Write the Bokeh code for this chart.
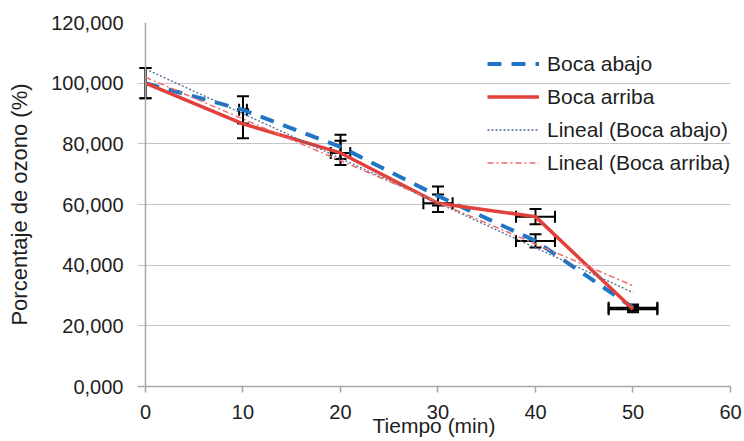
import numpy as np
from bokeh.plotting import figure
from bokeh.models import (ColumnDataSource, Whisker, TeeHead, Legend, LegendItem,
                          FixedTicker, Range1d, Span)
from bokeh.embed import file_html
from bokeh.resources import INLINE

# ---- data ----
time_min = [0, 10, 20, 30, 40, 50]
boca_abajo = [100.0, 91.2, 79.0, 62.8, 48.0, 26.0]
boca_arriba = [100.0, 86.6, 77.0, 60.4, 56.0, 25.5]
abajo_err_y = [5.0, 4.5, 4.0, 3.1, 2.2, 1.0]
arriba_err_y = [5.0, 4.8, 4.0, 2.9, 2.5, 1.0]
abajo_err_x = [0.0, 0.4, 0.0, 0.0, 2.0, 2.5]
arriba_err_x = [0.0, 0.0, 1.0, 1.5, 2.0, 2.5]

x_ticks = [0, 10, 20, 30, 40, 50, 60]
y_ticks = [0, 20, 40, 60, 80, 100, 120]
y_tick_labels = ["0,000", "20,000", "40,000", "60,000", "80,000", "100,000", "120,000"]
series_names = ["Boca abajo", "Boca arriba", "Lineal (Boca abajo)", "Lineal (Boca arriba)"]
x_title = "Tiempo (min)"
y_title = "Porcentaje de ozono (%)"

FONT = "Liberation Sans"
TXT = "#1e1e1e"
AX = "#a6a6a6"

# small left padding so the error-bar caps at t=0 are not clipped by the frame
p = figure(width=744, height=441, output_backend="svg", toolbar_location=None,
           x_range=Range1d(-0.82, 60), y_range=Range1d(0, 120),
           min_border_left=137, min_border_right=14, min_border_top=22, min_border_bottom=55)
p.outline_line_color = None
p.xgrid.visible = False
p.ygrid.grid_line_color = "#c4c4c4"
p.ygrid.grid_line_width = 1

p.xaxis.ticker = FixedTicker(ticks=x_ticks)
p.yaxis.ticker = FixedTicker(ticks=y_ticks)
p.yaxis.major_label_overrides = {t: l for t, l in zip(y_ticks, y_tick_labels)}

for ax in (p.xaxis[0], p.yaxis[0]):
    ax.axis_line_color = AX
    ax.axis_line_width = 1.5
    ax.major_tick_line_color = AX
    ax.major_tick_line_width = 1.5
    ax.major_tick_in = 0
    ax.major_tick_out = 6
    ax.minor_tick_line_color = None
    ax.major_label_text_font = FONT
    ax.major_label_text_font_size = "20px"
    ax.major_label_text_color = TXT

# y axis line drawn at t = 0; the grid lines left of it act as the tick marks
p.yaxis.axis_line_color = None
p.yaxis.major_tick_line_color = None
p.yaxis.major_tick_out = 0
p.add_layout(Span(location=0, dimension="height", line_color=AX, line_width=1.5))

p.yaxis.major_label_standoff = 14
p.xaxis.major_label_standoff = 12
p.yaxis.axis_label = y_title
p.xaxis.axis_label = x_title
for ax in (p.xaxis[0], p.yaxis[0]):
    ax.axis_label_text_font = FONT
    ax.axis_label_text_font_style = "normal"
    ax.axis_label_text_color = TXT
p.yaxis.axis_label_text_font_size = "22px"
p.xaxis.axis_label_text_font_size = "21px"
p.yaxis.axis_label_standoff = 16
p.xaxis.axis_label_standoff = -8

# ---- series ----
src = ColumnDataSource(dict(t=time_min, a=boca_abajo, r=boca_arriba))
r_abajo = p.line("t", "a", source=src, line_color="#1f76c6", line_width=4, line_dash="14 10")
r_arriba = p.line("t", "r", source=src, line_color="#e2403a", line_width=3.5, line_join="round")

# ---- linear trend lines (least squares fit of each series) ----
ka, ba = np.polyfit(time_min, boca_abajo, 1)
kr, br = np.polyfit(time_min, boca_arriba, 1)
tx = [time_min[0], time_min[-1]]
r_lin_a = p.line(tx, [ba + ka * t for t in tx], line_color="#4a6b92", line_width=1.3, line_dash="2 2")
r_lin_r = p.line(tx, [br + kr * t for t in tx], line_color="#f06a6a", line_width=1.5, line_dash="6 3 2 3")

# ---- error bars ----
def add_err(values, ey, ex):
    head = lambda: TeeHead(size=12, line_color="black", line_width=2)
    vs = ColumnDataSource(dict(base=time_min,
                               upper=[v + e for v, e in zip(values, ey)],
                               lower=[v - e for v, e in zip(values, ey)]))
    p.add_layout(Whisker(source=vs, base="base", upper="upper", lower="lower",
                         dimension="height", line_color="black", line_width=2,
                         upper_head=head(), lower_head=head()))
    idx = [i for i, e in enumerate(ex) if e > 0]
    hs = ColumnDataSource(dict(base=[values[i] for i in idx],
                               upper=[time_min[i] + ex[i] for i in idx],
                               lower=[time_min[i] - ex[i] for i in idx]))
    p.add_layout(Whisker(source=hs, base="base", upper="upper", lower="lower",
                         dimension="width", line_color="black", line_width=2,
                         upper_head=head(), lower_head=head()))

add_err(boca_abajo, abajo_err_y, abajo_err_x)
add_err(boca_arriba, arriba_err_y, arriba_err_x)

legend = Legend(items=[LegendItem(label=series_names[0], renderers=[r_abajo]),
                       LegendItem(label=series_names[1], renderers=[r_arriba]),
                       LegendItem(label=series_names[2], renderers=[r_lin_a]),
                       LegendItem(label=series_names[3], renderers=[r_lin_r])],
                location=(350, 207), glyph_width=52, glyph_height=33, label_height=33,
                spacing=0, padding=0, margin=0, label_standoff=8,
                label_text_font=FONT, label_text_font_size="21px", label_text_color=TXT,
                background_fill_alpha=0, border_line_color=None)
p.add_layout(legend)

open("out.html", "w").write(file_html(p, INLINE))
